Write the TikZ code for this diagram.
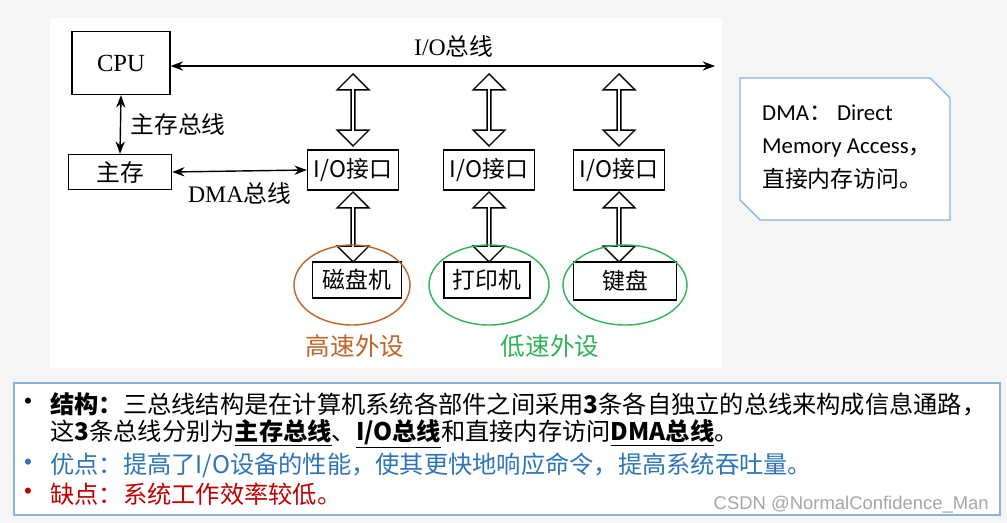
\documentclass[tikz,border=0pt]{standalone}
\usepackage{fontspec}
\setmainfont{Liberation Serif}
\newfontfamily\cjk{Noto Sans CJK SC}
\newfontfamily\carl{Carlito}
\usetikzlibrary{shapes.geometric,shapes.arrows,arrows.meta}
\definecolor{orng}{HTML}{C0642A}
\definecolor{grn}{HTML}{2EB35A}
\definecolor{bl}{HTML}{2E75B6}
\definecolor{rd}{HTML}{C00000}
\definecolor{frame}{HTML}{8DB3D9}
\begin{document}
\begin{tikzpicture}[x=0.02cm,y=-0.02cm,
  box/.style={draw,thick,inner sep=0pt},
  lbl/.style={font=\fontsize{13.5}{15}\selectfont},
  dar/.style={double arrow,draw,thick,rotate=90,minimum width=18,inner sep=0pt,
     double arrow head extend=3pt,double arrow head indent=0pt,fill=white},
  bus/.style={thick,{Stealth[length=7pt]}-{Stealth[length=7pt]}},
  txt/.style={anchor=west,font=\cjk\fontsize{13.8}{16}\selectfont,inner sep=0pt}]
\useasboundingbox (0,0) rectangle (1007,523);
\fill[gray!8] (0,0) rectangle (1007,523);
\fill[white] (50,18) rectangle (722,368);
% boxes
\node[box,minimum width=98*0.02cm,minimum height=63*0.02cm] (cpu) at (121,63) {\fontsize{14}{15}\selectfont CPU};
\node[box,minimum width=103*0.02cm,minimum height=35*0.02cm] (mem) at (120,172) {\cjk\fontsize{13.5}{15}\selectfont 主存};
\foreach \n/\x in {a/353,b/489,c/619}{
  \node[box,minimum width=91*0.02cm,minimum height=40*0.02cm] (io\n) at (\x,170) {\cjk\fontsize{13}{15}\selectfont I/O接口};
}
\node[box,minimum width=89*0.02cm,minimum height=36*0.02cm] (d1) at (357,280) {\cjk\fontsize{13}{15}\selectfont 磁盘机};
\node[box,minimum width=86*0.02cm,minimum height=36*0.02cm] (d2) at (487,280) {\cjk\fontsize{13}{15}\selectfont 打印机};
\node[box,minimum width=103*0.02cm,minimum height=38*0.02cm] (d3) at (625,281) {\cjk\fontsize{13}{15}\selectfont 键盘};
% buses
\coordinate (busend) at (715,66);
\draw[bus] (cpu.east|-0,66) -- (busend) node[pos=0.52,above=1pt,lbl] {I/O{\cjk 总线}};
\draw[bus] (cpu.south) -- (mem.north) node[midway,right=2pt,lbl] {\cjk 主存总线};
\draw[bus] (mem.east) -- (ioa.west) node[midway,below=3pt,lbl] {DMA{\cjk 总线}};
% hollow arrows
\foreach \n/\x in {a/353,b/489,c/619}{
  \node[dar,minimum height=72*0.02cm] (u\n) at (\x,110) {};
  \node[dar,minimum height=70*0.02cm] (l\n) at (\x,227) {};
}
% ellipses
\node[ellipse,draw=orng,thick,minimum width=116*0.02cm,minimum height=80*0.02cm] (e1) at (352,285) {};
\node[ellipse,draw=grn,thick,minimum width=120*0.02cm,minimum height=80*0.02cm] (e2) at (489,285) {};
\node[ellipse,draw=grn,thick,minimum width=124*0.02cm,minimum height=80*0.02cm] (e3) at (625,285) {};
\node[text=orng,font=\cjk\fontsize{14}{16}\selectfont] (hs) at (355,346) {高速外设};
\node[text=grn,font=\cjk\fontsize{14}{16}\selectfont] (ls) at (550,346) {低速外设};
% note
\draw[frame,thick,fill=white] (740,78) -- (930,78) -- (950,98) -- (950,220) -- (760,220) -- (740,200) -- cycle;
\node[anchor=west,font=\carl\fontsize{13}{16}\selectfont,align=left] (note) at (756,147)
 {DMA{\cjk ：} Direct\\[3pt] Memory Access{\cjk ，}\\[3pt] {\cjk 直接内存访问。}};
% bottom box
\draw[frame,thick,fill=white] (14,383) rectangle (1000,515);
\node[txt] (t1) at (50,404) {\textbf{结构：}三总线结构是在计算机系统各部件之间采用\textbf{3}条各自独立的总线来构成信息通路，};
\node[txt] (t2) at (50,434) {这\textbf{3}条总线分别为\underline{\textbf{主存总线}}、\underline{\textbf{I/O总线}}和直接内存访问\underline{\textbf{DMA总线}}。};
\node[txt,text=bl] (t3) at (50,465) {优点：提高了I/O设备的性能，使其更快地响应命令，提高系统吞吐量。};
\node[txt,text=rd] (t4) at (50,494) {缺点：系统工作效率较低。};
\foreach \y/\c in {404/black,465/bl,494/rd}{\node[text=\c,font=\Large] at (28,\y) {\textbullet};}
\node[anchor=east,text=gray!70,font=\fontspec{Liberation Sans}\fontsize{10.5}{12}\selectfont] (wm) at (995,505) {CSDN @NormalConfidence\_Man};
\end{tikzpicture}
\end{document}
